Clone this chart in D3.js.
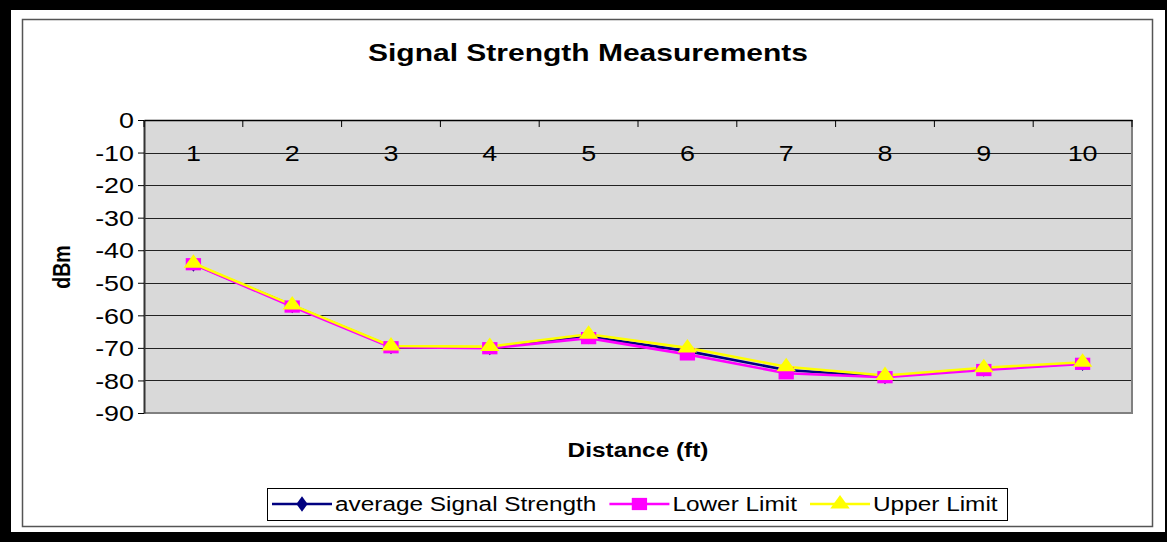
<!DOCTYPE html>
<html>
<head>
<meta charset="utf-8">
<script src="https://cdn.jsdelivr.net/npm/d3@7"></script>
<style>
  html, body { margin: 0; padding: 0; background: #fff; }
  svg { display: block; font-family: "Liberation Sans", Arial, sans-serif; }
</style>
</head>
<body>
<svg id="chart" width="1167" height="542"></svg>
<script>
// ---- data ----
const categories = ["1", "2", "3", "4", "5", "6", "7", "8", "9", "10"];
const averageSignal = [-44.2, -57.0, -69.6, -69.9, -66.5, -71.0, -76.8, -78.8, -76.5, -74.7];
const lowerLimit    = [-44.3, -57.3, -69.8, -70.1, -67.0, -72.0, -77.8, -79.0, -76.8, -74.9];
const upperLimit    = [-44.0, -56.8, -69.4, -69.6, -65.8, -70.0, -75.8, -78.5, -76.1, -74.4];
const yTicks = [0, -10, -20, -30, -40, -50, -60, -70, -80, -90];
const seriesNames = ["average Signal Strength", "Lower Limit", "Upper Limit"];
const titleText = "Signal Strength Measurements";
const xTitle = "Distance (ft)";
const yTitle = "dBm";

// ---- styles ----
const SX = 1.25; // horizontal stretch of the text in the reference
const seriesStyle = [
  { color: "#000080", symbol: d3.symbolDiamond, size: 70 },
  { color: "#FF00FF", symbol: d3.symbolSquare, size: 150 },
  { color: "#FFFF00", symbol: d3.symbolTriangle, size: 105 }
];
const seriesData = [averageSignal, lowerLimit, upperLimit];

const svg = d3.select("#chart");

// frame
svg.append("rect").attr("x", 0).attr("y", 0).attr("width", 1167).attr("height", 542).attr("fill", "#000");
svg.append("rect").attr("x", 11).attr("y", 10).attr("width", 1154).attr("height", 522).attr("fill", "#fff");
svg.append("rect").attr("x", 22.5).attr("y", 19.5).attr("width", 1130).attr("height", 507)
  .attr("fill", "none").attr("stroke", "#555").attr("stroke-width", 1.5);

const plot = { left: 144, right: 1132, top: 120, bottom: 413 };

const x = d3.scaleBand().domain(categories).range([plot.left, plot.right]).padding(0);
const y = d3.scaleLinear().domain([-90, 0]).range([plot.bottom, plot.top]);

function sText(g, tx, ty, str) {
  return g.append("text").attr("transform", `translate(${tx},${ty}) scale(${SX},1)`).text(str);
}

// plot background
svg.append("rect").attr("x", plot.left).attr("y", plot.top)
  .attr("width", plot.right - plot.left).attr("height", plot.bottom - plot.top)
  .attr("fill", "#D9D9D9");

// gridlines
svg.append("g").selectAll("line").data(yTicks.filter(v => v !== 0 && v !== -90)).join("line")
  .attr("x1", plot.left).attr("x2", plot.right)
  .attr("y1", d => Math.round(y(d)) + 0.5).attr("y2", d => Math.round(y(d)) + 0.5)
  .attr("stroke", "#222").attr("stroke-width", 1);

// plot border (right, bottom)
svg.append("path")
  .attr("d", `M${plot.right},${plot.top} V${plot.bottom} H${plot.left}`)
  .attr("fill", "none").attr("stroke", "#808080").attr("stroke-width", 2);

// y axis
const yAxisG = svg.append("g").attr("transform", `translate(${plot.left},0)`)
  .call(d3.axisLeft(y).tickValues(yTicks).tickSize(6).tickSizeOuter(0).tickFormat(d => String(d)));
yAxisG.select(".domain").attr("stroke", "#333").attr("stroke-width", 2);
yAxisG.selectAll(".tick line").attr("stroke", "#000");
yAxisG.selectAll(".tick text")
  .attr("x", -10 / SX).attr("dy", "0.36em")
  .attr("transform", `scale(${SX},1)`)
  .attr("font-size", 21.5).attr("fill", "#000")
  .attr("font-family", "'Liberation Sans', Arial, sans-serif");

// x axis (at value 0, top of plot), labels below the line
const xAxisG = svg.append("g").attr("transform", `translate(0,${plot.top})`)
  .call(d3.axisBottom(x).tickSize(0).tickPadding(0));
xAxisG.select(".domain").attr("stroke", "#000").attr("stroke-width", 1.5);
xAxisG.selectAll(".tick text")
  .attr("y", 0).attr("dy", 0)
  .attr("transform", `translate(0,40.5) scale(${SX},1)`)
  .attr("font-size", 21.5).attr("fill", "#000")
  .attr("font-family", "'Liberation Sans', Arial, sans-serif");
// boundary tick marks
const bounds = categories.map(c => x(c)).concat([plot.right]);
svg.append("g").selectAll("line").data(bounds).join("line")
  .attr("x1", d => d).attr("x2", d => d)
  .attr("y1", plot.top).attr("y2", plot.top + 7)
  .attr("stroke", "#000").attr("stroke-width", 1);

// series
const line = d3.line().x((d, i) => x(categories[i]) + x.bandwidth() / 2).y(d => y(d));
seriesData.forEach((vals, si) => {
  const st = seriesStyle[si];
  svg.append("path").datum(vals).attr("d", line)
    .attr("fill", "none").attr("stroke", st.color).attr("stroke-width", 2.6)
    .attr("stroke-linejoin", "round");
});
seriesData.forEach((vals, si) => {
  const st = seriesStyle[si];
  svg.append("g").selectAll("path").data(vals).join("path")
    .attr("d", d3.symbol().type(st.symbol).size(st.size))
    .attr("transform", (d, i) => `translate(${x(categories[i]) + x.bandwidth() / 2},${y(d)}) scale(${SX},1)`)
    .attr("fill", st.color);
});

// title
sText(svg, 588, 61, titleText).attr("text-anchor", "middle")
  .attr("font-size", 24).attr("font-weight", "bold");
// x title
sText(svg, 638, 457, xTitle).attr("text-anchor", "middle")
  .attr("font-size", 19.5).attr("font-weight", "bold");
// y title (rotated)
svg.append("text")
  .attr("transform", `translate(70,267) scale(${SX},1) rotate(-90)`)
  .attr("text-anchor", "middle")
  .attr("font-size", 19.5).attr("font-weight", "bold").text(yTitle);

// legend
const lg = svg.append("g");
lg.append("rect").attr("x", 267.5).attr("y", 488.5).attr("width", 740).attr("height", 32)
  .attr("fill", "#fff").attr("stroke", "#000").attr("stroke-width", 1);
let lx = 272;
const ly = 504;
seriesNames.forEach((name, si) => {
  const st = seriesStyle[si];
  lg.append("line").attr("x1", lx).attr("x2", lx + 60).attr("y1", ly).attr("y2", ly)
    .attr("stroke", st.color).attr("stroke-width", 2.6);
  lg.append("path").attr("d", d3.symbol().type(st.symbol).size(st.size))
    .attr("transform", `translate(${lx + 30},${ly}) scale(${SX},1)`).attr("fill", st.color);
  const t = sText(lg, lx + 63, ly + 7, name).attr("font-size", 19.5);
  const w = t.node().getComputedTextLength() * SX;
  lx = lx + 63 + w + 13;
});
</script>
</body>
</html>
